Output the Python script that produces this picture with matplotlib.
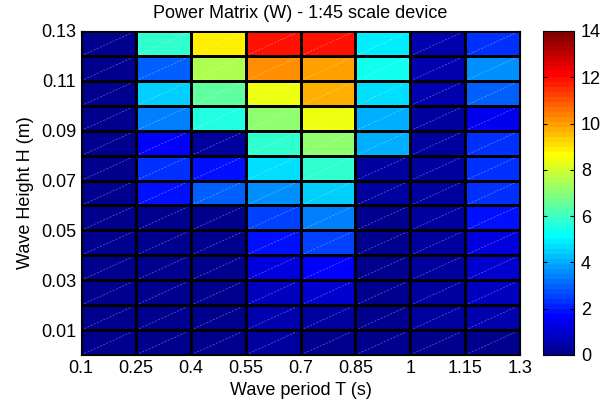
import numpy as np
import matplotlib
matplotlib.use('Agg')
import matplotlib.pyplot as plt
from matplotlib.colors import ListedColormap

plt.rcParams['font.family'] = ['Liberation Sans', 'DejaVu Sans']

# ── Data ──────────────────────────────────────────────────────────────────────
T = [0.1, 0.25, 0.4, 0.55, 0.7, 0.85, 1.0, 1.15, 1.3]          # wave period (s)
H = [0.0, 0.01, 0.02, 0.03, 0.04, 0.05, 0.06, 0.07,
     0.08, 0.09, 0.10, 0.11, 0.12, 0.13]                         # wave height (m)

# power (W), one row per H band, bottom (H=0) to top
P = [
    [0.05, 0.05, 0.05, 0.25, 0.15, 0.15, 0.15, 0.15],
    [0.05, 0.10, 0.10, 0.50, 0.35, 0.15, 0.25, 0.55],
    [0.10, 0.05, 0.05, 0.70, 0.90, 0.15, 0.25, 0.75],
    [0.05, 0.05, 0.05, 1.30, 1.55, 0.15, 0.25, 1.00],
    [0.05, 0.05, 0.05, 1.95, 2.60, 0.15, 0.25, 1.20],
    [0.05, 0.05, 0.05, 2.60, 3.30, 0.15, 0.35, 1.75],
    [0.05, 1.75, 2.85, 3.50, 4.40, 0.25, 0.35, 2.40],
    [0.05, 2.40, 1.95, 4.60, 5.70, 0.25, 0.25, 2.40],
    [0.05, 1.55, 0.35, 5.70, 7.20, 3.95, 0.25, 2.40],
    [0.05, 3.30, 5.50, 7.20, 8.50, 4.15, 0.35, 1.40],
    [0.05, 4.40, 6.55, 8.50, 9.70, 4.80, 0.55, 3.05],
    [0.05, 3.05, 7.65, 10.15, 9.95, 5.25, 0.55, 3.70],
    [0.10, 5.70, 8.85, 12.0, 12.0, 4.95, 0.55, 2.40],
]

x_ticks = [0.1, 0.25, 0.4, 0.55, 0.7, 0.85, 1.0, 1.15, 1.3]
x_labels = ['0.1', '0.25', '0.4', '0.55', '0.7', '0.85', '1', '1.15', '1.3']
y_ticks = [0.01, 0.03, 0.05, 0.07, 0.09, 0.11, 0.13]
cb_ticks = [0, 2, 4, 6, 8, 10, 12, 14]


# MATLAB-style jet(64) colour table
def matlab_jet(m=64):
    n = int(np.ceil(m / 4))
    u = np.concatenate([np.arange(1, n + 1) / n, np.ones(n - 1),
                        np.arange(n, 0, -1) / n])
    g = int(np.ceil(n / 2)) - (1 if m % 4 == 1 else 0) + np.arange(1, len(u) + 1)
    r = g + n
    b = g - n
    J = np.zeros((m, 3))
    J[r[r <= m] - 1, 0] = u[r <= m]
    J[g[g <= m] - 1, 1] = u[g <= m]
    J[b[b >= 1] - 1, 2] = u[b >= 1]
    return ListedColormap(J)


FS = 13

# ── Plot ──────────────────────────────────────────────────────────────────────
fig = plt.figure(figsize=(6.11, 4.05), dpi=100)
ax = fig.add_axes([0.1326, 0.1235, 0.7185, 0.8])
cax = fig.add_axes([0.8887, 0.1235, 0.0507, 0.8])

mesh = ax.pcolormesh(T, H, np.array(P), cmap=matlab_jet(), vmin=0, vmax=14,
                     edgecolors='none', linewidth=0)

# cell borders
for t in T:
    ax.axvline(t, color='black', linewidth=0.8, antialiased=False, zorder=4)
for h in H:
    ax.axhline(h, color='black', linewidth=0.8, antialiased=False, zorder=4)

# faint diagonal rendering seams in every cell (as in the exported figure)
for i in range(len(H) - 1):
    for j in range(len(T) - 1):
        ax.plot([T[j], T[j + 1]], [H[i], H[i + 1]], color='white',
                linewidth=0.5, linestyle=(0, (3, 2)), alpha=0.4, zorder=3)

ax.set_xlim(T[0], T[-1])
ax.set_ylim(H[0], H[-1])
ax.set_xticks(x_ticks)
ax.set_xticklabels(x_labels)
ax.set_yticks(y_ticks)
ax.set_yticklabels([f'{v:.2f}' for v in y_ticks])
ax.tick_params(direction='in', length=3, labelsize=FS, top=True, right=True)
ax.set_xlabel('Wave period T (s)', fontsize=FS, labelpad=4)
ax.set_ylabel('Wave Height H (m)', fontsize=FS, labelpad=5)
ax.set_title('Power Matrix (W) - 1:45 scale device', fontsize=FS, pad=9)
for spine in ax.spines.values():
    spine.set_linewidth(0.8)

cb = fig.colorbar(mesh, cax=cax, ticks=cb_ticks)
cb.ax.tick_params(direction='in', length=3, labelsize=FS, pad=5,
                  left=True, right=True)
cb.outline.set_linewidth(0.8)

fig.savefig('out.png', dpi=100)
plt.close(fig)
